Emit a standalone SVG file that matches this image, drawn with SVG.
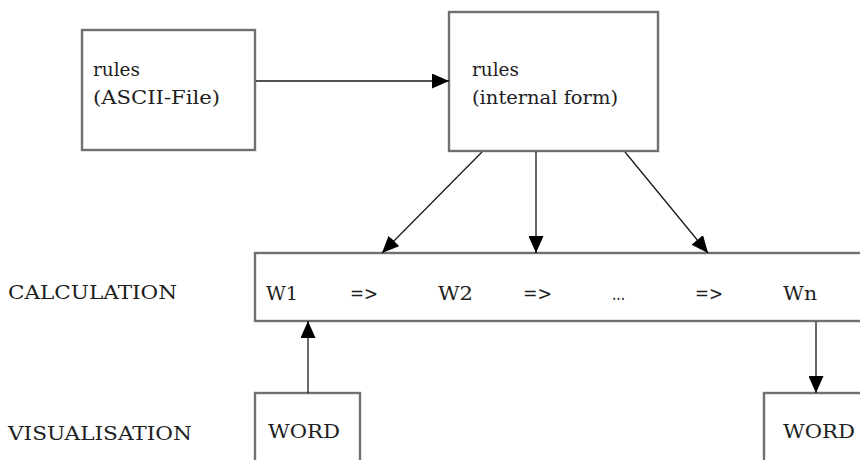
<svg xmlns="http://www.w3.org/2000/svg" width="860" height="460" viewBox="0 0 860 460">
  <style>
    .box { fill: #ffffff; stroke: #707070; stroke-width: 2.4; }
    .lbl { font-family: "DejaVu Serif", "Liberation Serif", serif; font-size: 18px; fill: #1e1e1e; }
    .conn { stroke: #1a1a1a; stroke-width: 1.3; fill: none; marker-end: url(#head); }
  </style>
  <defs>
    <marker id="head" markerWidth="17" markerHeight="15" refX="17" refY="7.5" orient="auto" markerUnits="userSpaceOnUse">
      <path d="M0,0 L17,7.5 L0,15 Z" fill="#000000"/>
    </marker>
  </defs>
  <rect width="860" height="460" fill="#ffffff"/>

  <g id="rules-ascii">
    <rect class="box" x="82" y="30" width="173" height="120"/>
    <text class="lbl" x="93" y="76" textLength="47" lengthAdjust="spacingAndGlyphs">rules</text>
    <text class="lbl" x="93" y="104" textLength="127" lengthAdjust="spacingAndGlyphs">(ASCII-File)</text>
  </g>

  <g id="rules-internal">
    <rect class="box" x="449" y="12" width="209" height="139"/>
    <text class="lbl" x="472" y="76" textLength="47" lengthAdjust="spacingAndGlyphs">rules</text>
    <text class="lbl" x="472" y="104" textLength="146" lengthAdjust="spacingAndGlyphs">(internal form)</text>
  </g>

  <g id="calculation">
    <rect class="box" x="255" y="253" width="620" height="68"/>
    <text class="lbl" x="266" y="300" textLength="32" lengthAdjust="spacingAndGlyphs">W1</text>
    <text class="lbl" x="350" y="300" textLength="28" lengthAdjust="spacingAndGlyphs">=&gt;</text>
    <text class="lbl" x="438" y="300" textLength="35" lengthAdjust="spacingAndGlyphs">W2</text>
    <text class="lbl" x="523" y="300" textLength="29" lengthAdjust="spacingAndGlyphs">=&gt;</text>
    <text class="lbl" x="612" y="300" textLength="13" lengthAdjust="spacingAndGlyphs" fill="#888888">...</text>
    <text class="lbl" x="695" y="300" textLength="28" lengthAdjust="spacingAndGlyphs">=&gt;</text>
    <text class="lbl" x="783" y="300" textLength="34" lengthAdjust="spacingAndGlyphs">Wn</text>
  </g>

  <g id="word-in">
    <rect class="box" x="255" y="393" width="105" height="80"/>
    <text class="lbl" x="268" y="438" textLength="72" lengthAdjust="spacingAndGlyphs">WORD</text>
  </g>

  <g id="word-out">
    <rect class="box" x="764" y="393" width="110" height="80"/>
    <text class="lbl" x="783" y="438" textLength="72" lengthAdjust="spacingAndGlyphs">WORD</text>
  </g>

  <g id="row-labels">
    <text class="lbl" x="8" y="299" textLength="169" lengthAdjust="spacingAndGlyphs">CALCULATION</text>
    <text class="lbl" x="8" y="440" textLength="184" lengthAdjust="spacingAndGlyphs">VISUALISATION</text>
  </g>

  <g id="connectors">
    <line class="conn" x1="256" y1="81" x2="449" y2="81"/>
    <line class="conn" x1="482" y1="152" x2="382" y2="253"/>
    <line class="conn" x1="536" y1="152" x2="536" y2="253"/>
    <line class="conn" x1="625" y1="152" x2="708" y2="253"/>
    <line class="conn" x1="308" y1="393" x2="308" y2="321"/>
    <line class="conn" x1="816" y1="322" x2="816" y2="393"/>
  </g>
</svg>
